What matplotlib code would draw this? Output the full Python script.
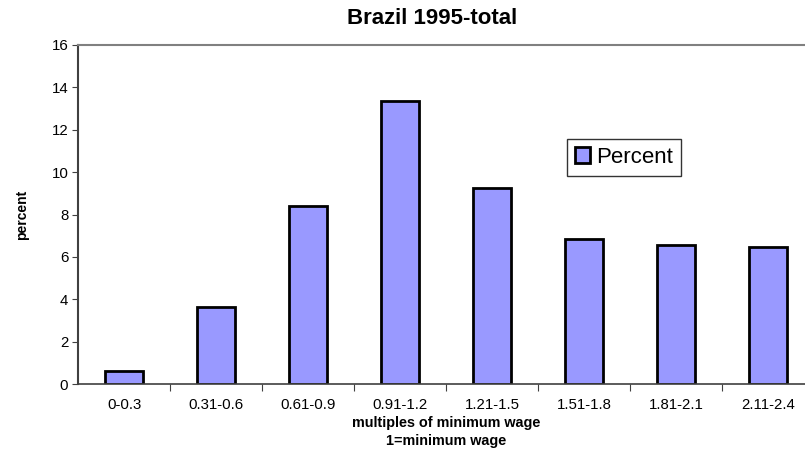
import matplotlib
matplotlib.use('Agg')
import matplotlib.pyplot as plt
from matplotlib.patches import Patch

categories = ['0-0.3', '0.31-0.6', '0.61-0.9', '0.91-1.2', '1.21-1.5', '1.51-1.8', '1.81-2.1', '2.11-2.4']
percent = [0.6, 3.63, 8.4, 13.35, 9.25, 6.84, 6.56, 6.47]
y_ticks = [0, 2, 4, 6, 8, 10, 12, 14, 16]

plt.rcParams['font.family'] = ['Liberation Sans', 'DejaVu Sans']

fig = plt.figure(figsize=(8.05, 4.53), dpi=100)
ax = fig.add_axes([78 / 805, 69 / 453, 736 / 805, 339 / 453])

x = list(range(len(categories)))
ax.bar(x, percent, width=0.42, color='#9999ff', edgecolor='black', linewidth=2)
ax.set_xlim(-0.5, len(categories) - 0.5)
ax.set_ylim(0, 16)
ax.set_yticks(y_ticks)
ax.tick_params(axis='y', labelsize=10.8, length=4, color='#404040', pad=3)
# category boundaries get the tick marks, labels sit in the middle
ax.set_xticks([i + 0.5 for i in x[:-1]], minor=False)
ax.set_xticklabels([])
ax.set_xticks(x, minor=True)
ax.set_xticklabels(categories, minor=True)
ax.tick_params(axis='x', which='major', length=5, color='#404040')
ax.tick_params(axis='x', which='minor', length=0, labelsize=10.8, pad=10)

for side in ['top', 'right']:
    ax.spines[side].set_color('#808080')
    ax.spines[side].set_linewidth(1.5)
ax.spines['left'].set_color('#404040')
ax.spines['left'].set_linewidth(1.5)
ax.spines['bottom'].set_color('#404040')
ax.spines['bottom'].set_linewidth(1.2)

ax.set_ylabel('percent', fontsize=10, fontweight='bold', labelpad=16)
ax.set_xlabel('multiples of minimum wage\n1=minimum wage', fontsize=10.4, fontweight='bold',
              labelpad=3, linespacing=1.4)
fig.text(432 / 805, 1 - 18 / 453, 'Brazil 1995-total', ha='center', va='center',
         fontsize=16, fontweight='bold')

handle = Patch(facecolor='#9999ff', edgecolor='black', linewidth=2, label='Percent')
leg = ax.legend(handles=[handle], loc='upper left',
                bbox_to_anchor=((567 - 78) / 736, (384 - 139) / 339),
                fontsize=16, fancybox=False, frameon=True,
                handlelength=0.7, handleheight=0.7, handletextpad=0.25, borderpad=0.35, borderaxespad=0)
leg.get_frame().set_edgecolor('black')
leg.get_frame().set_linewidth(1)

fig.savefig('out.png', dpi=100)
